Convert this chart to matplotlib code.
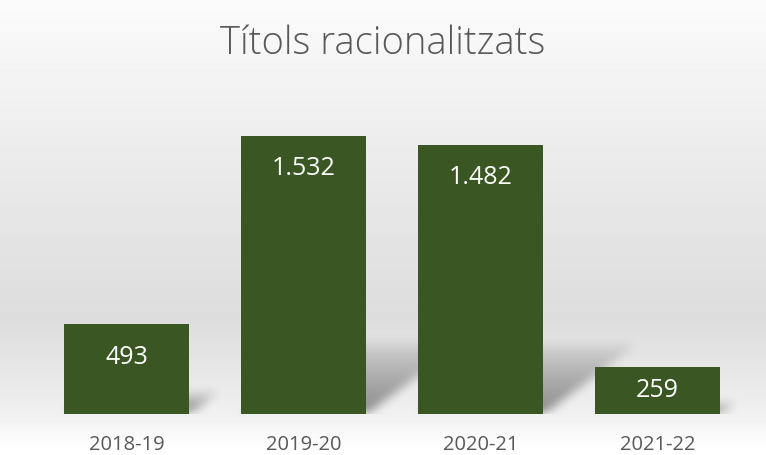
import numpy as np
import matplotlib
matplotlib.use('Agg')
import matplotlib.pyplot as plt

# data
cursos = ['2018-19', '2019-20', '2020-21', '2021-22']
titols = [493, 1532, 1482, 259]
etiquetes = ['493', '1.532', '1.482', '259']

W, H, DPI = 766, 455, 100
BAR = '#3a5623'
TEXT = '#595959'


def box_blur(img, k):
    kern = np.ones(k) / k
    out = np.apply_along_axis(lambda r: np.convolve(r, kern, mode='same'), 1, img)
    out = np.apply_along_axis(lambda c: np.convolve(c, kern, mode='same'), 0, out)
    return out


def main():
    fig = plt.figure(figsize=(W / DPI, H / DPI), dpi=DPI)

    # vertical background gradient (white -> grey -> white)
    bg = fig.add_axes([0, 0, 1, 1], zorder=0)
    yy = np.linspace(0, 1, H)
    stops_y = [0.0, 0.30, 0.70, 0.91, 0.97, 1.0]
    stops_v = [0.985, 0.93, 0.865, 0.94, 0.99, 1.0]
    g = np.interp(yy, stops_y, stops_v)
    grad = np.repeat(g[:, None], W, axis=1)
    bg.imshow(grad, cmap='gray', vmin=0, vmax=1, aspect='auto',
              extent=[0, 1, 1, 0])
    bg.set_axis_off()

    left, bottom = 38, 41
    width, height = 708, 327
    ax = fig.add_axes([left / W, bottom / H, width / W, height / H], zorder=1)
    ax.patch.set_alpha(0)
    x = np.arange(len(cursos))
    ymax = 1800
    ax.set_xlim(-0.5, len(cursos) - 0.5)
    ax.set_ylim(0, ymax)

    # soft perspective shadows behind the bars
    bw = 0.706
    px_x = width / len(cursos)
    px_y = height / ymax
    gx, gy = np.meshgrid(np.arange(width), np.arange(height))
    gy = height - gy
    alpha = np.zeros((height, width))
    for i, v in enumerate(titols):
        hp = v * px_y
        xl = (i + 0.5 - bw / 2) * px_x
        xr = (i + 0.5 + bw / 2) * px_x
        rise = 0.27 * hp
        t = gy / rise
        xs = gx - 0.36 * hp * t
        inside = (t >= 0) & (t <= 1) & (xs >= xl) & (xs <= xr)
        a = np.where(inside, 0.42 * (1 - t) ** 0.7, 0)
        alpha = np.maximum(alpha, a)
    alpha = box_blur(box_blur(alpha, 11), 11)
    shadow = np.zeros((height, width, 4))
    shadow[..., 3] = alpha
    ax.imshow(shadow, extent=[-0.5, len(cursos) - 0.5, 0, ymax],
              aspect='auto', zorder=1, interpolation='bilinear')

    bars = ax.bar(x, titols, width=bw, color=BAR, zorder=2)
    for b, lab in zip(bars, etiquetes):
        hp = b.get_height() * px_y
        off = min(33, hp / 2)  # pixels below the bar top
        ax.annotate(lab, (b.get_x() + b.get_width() / 2, b.get_height()),
                    xytext=(0, -off * 72 / DPI), textcoords='offset points',
                    ha='center', va='center', color='white',
                    fontsize=18, family='Open Sans', zorder=3)

    ax.set_xticks(x)
    ax.set_xticklabels(cursos, fontsize=14.5, color=TEXT, family='Open Sans')
    ax.tick_params(axis='x', length=0, pad=15)
    ax.set_yticks([])
    for s in ax.spines.values():
        s.set_visible(False)

    fig.text(0.5, 1 - 44 / H, 'Títols racionalitzats', ha='center',
             va='center', fontsize=27.5, color=TEXT, family='Open Sans',
             weight='light')

    fig.savefig('out.png', dpi=DPI)
    plt.close(fig)


if __name__ == '__main__':
    main()
